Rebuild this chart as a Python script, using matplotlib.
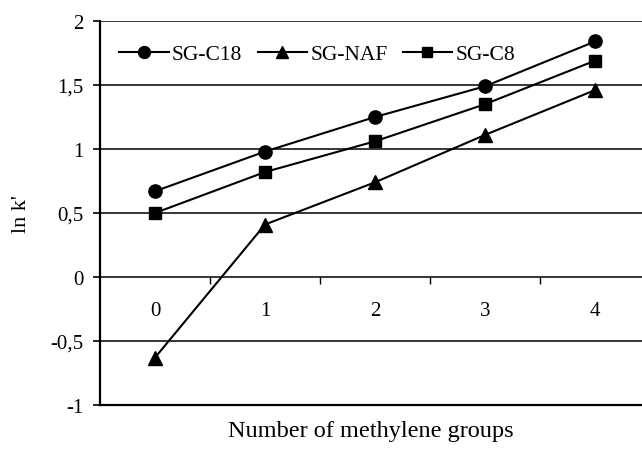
import matplotlib
matplotlib.use("Agg")
import matplotlib.pyplot as plt
from matplotlib.ticker import FixedLocator, FuncFormatter

plt.rcParams['font.family'] = ['Liberation Serif', 'DejaVu Serif']

categories = ["0", "1", "2", "3", "4"]
sg_c18 = [0.67, 0.98, 1.25, 1.49, 1.84]
sg_naf = [-0.63, 0.41, 0.74, 1.11, 1.46]
sg_c8 = [0.50, 0.82, 1.06, 1.35, 1.69]
series_names = ["SG-C18", "SG-NAF", "SG-C8"]
y_ticks = [-1, -0.5, 0, 0.5, 1, 1.5, 2]

fig = plt.figure(figsize=(6.42, 4.6), dpi=100)
ax = fig.add_axes([100/642, 1-406/460, 1-100/642, (406-22)/460])

x = list(range(len(categories)))
ax.plot(x, sg_c18, color='black', lw=1.5, marker='o', ms=9.5, label=series_names[0])
ax.plot(x, sg_naf, color='black', lw=1.5, marker='^', ms=9.5, label=series_names[1])
ax.plot(x, sg_c8, color='black', lw=1.5, marker='s', ms=8.5, label=series_names[2])

ax.set_xlim(-0.5, 4.5 - 8/110)
ax.set_ylim(-1, 2)
ax.set_yticks(y_ticks)
ax.yaxis.set_major_formatter(FuncFormatter(lambda v, p: ('%g' % v).replace('.', ',')))
ax.tick_params(axis='y', direction='out', length=5, width=1.2, labelsize=15, pad=7)
for yv in y_ticks[1:]:
    ax.axhline(yv, color='black', lw=1.1, zorder=0)

ax.set_xticks([])
for s in ['top', 'right']:
    ax.spines[s].set_visible(False)
ax.spines['left'].set_linewidth(1.6)
ax.spines['bottom'].set_linewidth(1.6)

sec = ax.secondary_xaxis(1/3)
sec.spines['bottom'].set_visible(False)
sec.xaxis.set_major_locator(FixedLocator([0.5, 1.5, 2.5, 3.5]))
sec.xaxis.set_major_formatter(FuncFormatter(lambda v, p: ''))
sec.xaxis.set_minor_locator(FixedLocator(x))
sec.xaxis.set_minor_formatter(FuncFormatter(lambda v, p: categories[int(round(v))]))
sec.tick_params(axis='x', which='major', direction='out', length=5, width=1)
sec.tick_params(axis='x', which='minor', length=0, pad=17, labelsize=15)

ax.set_xlabel('Number of methylene groups', fontsize=17.5, labelpad=11)
ax.set_ylabel("ln k'", fontsize=16, labelpad=14)

ax.legend(loc='upper left', bbox_to_anchor=(0.0, 0.99), ncol=3, frameon=False,
          fontsize=15.5, handlelength=2.3, handletextpad=0.15, columnspacing=0.7,
          borderaxespad=0.5, markerscale=0.9)

fig.savefig('out.png', dpi=100)
